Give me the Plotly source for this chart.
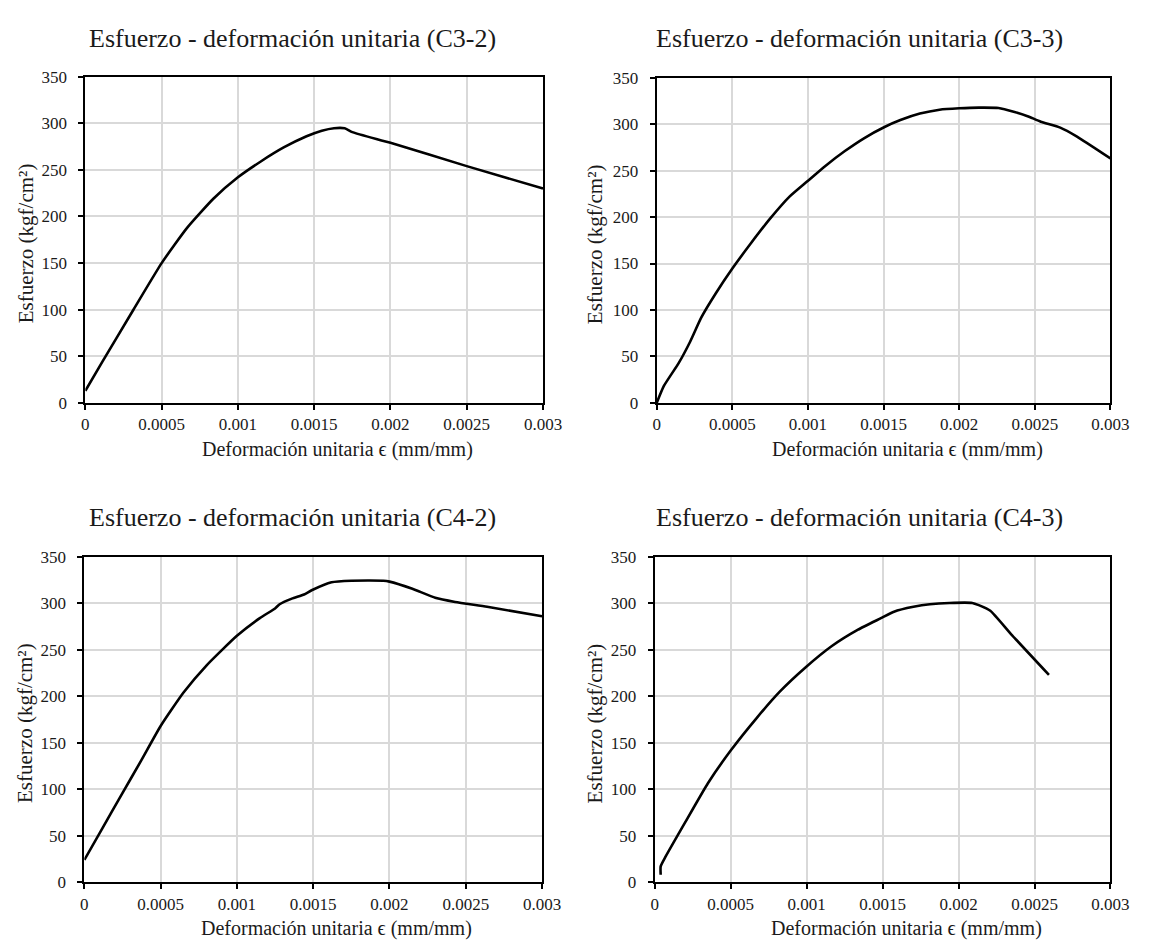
import plotly.graph_objects as go

W, H = 1153, 950

# ---------------- data ----------------
x_ticks = [0, 0.0005, 0.001, 0.0015, 0.002, 0.0025, 0.003]
x_tick_labels = ["0", "0.0005", "0.001", "0.0015", "0.002", "0.0025", "0.003"]
y_ticks = [0, 50, 100, 150, 200, 250, 300, 350]
y_tick_labels = ["0", "50", "100", "150", "200", "250", "300", "350"]

panel_titles = [
    "Esfuerzo - deformación unitaria (C3-2)",
    "Esfuerzo - deformación unitaria (C3-3)",
    "Esfuerzo - deformación unitaria (C4-2)",
    "Esfuerzo - deformación unitaria (C4-3)",
]
x_title = "Deformación unitaria ϵ (mm/mm)"
y_title = "Esfuerzo (kgf/cm²)"

c32_strain = [0.0, 0.000111, 0.000315, 0.0005, 0.000668, 0.000839, 0.001, 0.00115,
              0.0013, 0.00145, 0.00155, 0.00163, 0.0017, 0.00175, 0.002, 0.0025, 0.003]
c32_stress = [13, 44, 100, 150, 188, 219, 242, 259,
              274, 286, 292, 294.7, 294.6, 290.5, 279, 254, 230]

c33_strain = [0.0, 0.0000474, 0.000145, 0.00022, 0.000295, 0.000392, 0.0005, 0.000619,
              0.000748, 0.000878, 0.000996, 0.001115, 0.001244, 0.001373, 0.001503, 0.001611,
              0.00174, 0.00187, 0.002, 0.00213, 0.00226, 0.002366, 0.002452, 0.002539,
              0.002668, 0.002776, 0.003]
c33_stress = [0, 18.3, 42.8, 65.6, 92, 118.3, 144.6, 171,
              198, 222, 238.5, 255, 271, 285, 296.6, 304.3,
              311.3, 315.5, 317, 317.7, 317.3, 313, 308.5, 302.6,
              296.2, 286.8, 263]

c42_strain = [0.0, 0.000116, 0.000244, 0.000373, 0.0005, 0.00065, 0.0008, 0.001,
              0.00115, 0.00125, 0.00128, 0.00136, 0.00144, 0.00149, 0.00162, 0.00175,
              0.00196, 0.002, 0.00215, 0.0023, 0.00243, 0.00264, 0.003]
c42_stress = [24, 57.3, 94.2, 131, 168, 204, 233, 265,
              284, 294.5, 299, 305, 309.5, 314, 322.6, 324.3,
              324.3, 323.3, 315.6, 306, 301.5, 296.2, 286]

c43_strain = [0.000039, 0.000039, 0.000071, 0.0002, 0.00035, 0.0005, 0.000672, 0.000823,
              0.000994, 0.001166, 0.001338, 0.001489, 0.001575, 0.001703, 0.001811, 0.00194,
              0.00209, 0.002133, 0.002209, 0.002348, 0.002595]
c43_stress = [8, 17, 27.4, 64.3, 106.5, 141.6, 176.8, 204.9,
              231.2, 254, 271.6, 284, 291, 296.2, 299, 300.4,
              300.4, 298, 292, 266.4, 223]

series = [(c32_strain, c32_stress), (c33_strain, c33_stress),
          (c42_strain, c42_stress), (c43_strain, c43_stress)]

# ---------------- layout (pixel boxes of plot areas) ----------------
boxes = [  # left, right, top, bottom (px)
    (83, 550, 69, 402),
    (666, 1129, 70, 402),
    (82, 549, 559, 891),
    (664, 1129, 559, 891),
]
title_pos = [(294, 30), (873, 30), (294, 519), (873, 519)]
ytitle_x = [22, 603, 22, 603]
xtitle_y = [450, 450, 938, 938]
xtitle_shift = 24

FONT = "Liberation Serif"
TXT = "#1a1a1a"

fig = go.Figure()
annotations = []
for i, ((xs, ys), (l, r, t, b)) in enumerate(zip(series, boxes)):
    n = "" if i == 0 else str(i + 1)
    fig.add_trace(go.Scatter(
        x=xs, y=ys, mode="lines",
        line=dict(color="black", width=2.6, shape="spline", smoothing=0.5),
        xaxis="x" + n, yaxis="y" + n, showlegend=False, hoverinfo="skip",
    ))
    common = dict(
        showline=True, linecolor="black", linewidth=2, mirror=True,
        showgrid=True, gridcolor="#d9d9d9", gridwidth=1.5,
        ticks="outside", ticklen=5, tickwidth=2, tickcolor="black",
        tickfont=dict(family=FONT, size=17, color=TXT), zeroline=False,
    )
    fig.update_layout(**{
        "xaxis" + n: dict(
            domain=[l / W, r / W], anchor="y" + n, range=[0, 0.003],
            tickvals=x_ticks, ticktext=x_tick_labels, **common),
        "yaxis" + n: dict(
            domain=[1 - b / H, 1 - t / H], anchor="x" + n, range=[0, 350],
            tickvals=y_ticks, ticktext=y_tick_labels, ticklabelstandoff=8, **common),
    })
    tx, ty = title_pos[i]
    annotations.append(dict(text=panel_titles[i], x=tx / W, y=1 - ty / H,
                            xref="paper", yref="paper", showarrow=False,
                            xanchor="center", yanchor="middle",
                            font=dict(family=FONT, size=26, color=TXT)))
    annotations.append(dict(text=y_title, x=ytitle_x[i] / W, y=1 - ((t + b) / 2 + 4) / H,
                            xref="paper", yref="paper", showarrow=False, textangle=-90,
                            xanchor="center", yanchor="middle",
                            font=dict(family=FONT, size=21, color=TXT)))
    annotations.append(dict(text=x_title, x=((l + r) / 2 + xtitle_shift) / W,
                            y=1 - xtitle_y[i] / H,
                            xref="paper", yref="paper", showarrow=False,
                            xanchor="center", yanchor="middle", borderpad=0,
                            font=dict(family=FONT, size=20, color=TXT)))

fig.update_layout(
    width=W, height=H, margin=dict(l=0, r=0, t=0, b=0),
    paper_bgcolor="white", plot_bgcolor="white",
    annotations=annotations, showlegend=False,
)

fig.write_html("out.html")
